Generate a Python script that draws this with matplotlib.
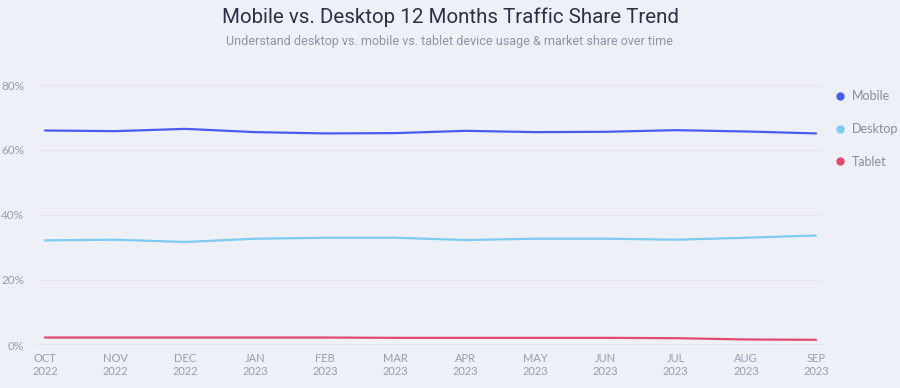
import matplotlib
matplotlib.use("Agg")
import matplotlib.pyplot as plt
import numpy as np
from matplotlib.lines import Line2D

months = ["OCT\n2022", "NOV\n2022", "DEC\n2022", "JAN\n2023", "FEB\n2023", "MAR\n2023",
          "APR\n2023", "MAY\n2023", "JUN\n2023", "JUL\n2023", "AUG\n2023", "SEP\n2023"]
mobile = [66.0, 65.8, 66.5, 65.5, 65.1, 65.2, 65.9, 65.5, 65.6, 66.1, 65.7, 65.1]
desktop = [32.2, 32.4, 31.7, 32.7, 33.0, 33.0, 32.3, 32.7, 32.7, 32.4, 33.0, 33.7]
tablet = [2.3, 2.3, 2.3, 2.3, 2.3, 2.2, 2.2, 2.2, 2.2, 2.1, 1.7, 1.6]
yticks = [0, 20, 40, 60, 80]
series_names = ["Mobile", "Desktop", "Tablet"]
colors = ["#4a5cf0", "#7ecbf0", "#e04a6e"]

bg = "#eef0f8"
fig = plt.figure(figsize=(9, 3.88), dpi=100, facecolor=bg)
ax = fig.add_axes([38/900, 1-345/388, 785/900, 260/388])
ax.set_facecolor(bg)

x = np.arange(len(months))
for vals, c in zip([mobile, desktop, tablet], colors):
    ax.plot(x, vals, color=c, lw=1.6, solid_capstyle="round", zorder=3)

ax.set_xlim(-0.1, len(months) - 1 + 0.1)
ax.set_ylim(0, 80)
ax.set_yticks(yticks)
ax.set_yticklabels([f"{v}%" for v in yticks])
ax.set_xticks(x)
ax.set_xticklabels(months)
for s in ax.spines.values():
    s.set_visible(False)
ax.grid(axis="y", color="#e6e6ec", lw=1)
ax.axhline(0, color="#dcdde6", lw=1.2, zorder=1)
ax.tick_params(axis="both", length=0, labelcolor="#9a9cab", labelsize=8)
ax.tick_params(axis="y", pad=10, labelsize=8.5)
ax.tick_params(axis="x", pad=6)
for lab in ax.get_yticklabels() + ax.get_xticklabels():
    lab.set_family("Lato")

handles = [Line2D([0], [0], marker="o", ls="none", color=c, markersize=5) for c in colors]
leg = fig.legend(handles, series_names, loc="upper left", bbox_to_anchor=(816/900, 1-79/388),
                 frameon=False, handletextpad=0.0, labelspacing=1.65,
                 prop={"family": "Lato", "size": 9})
for t in leg.get_texts():
    t.set_color("#8a8c9b")

fig.text(0.5, 1-17/388, "Mobile vs. Desktop 12 Months Traffic Share Trend", ha="center", va="center",
         fontsize=14.8, color="#2a3147", family="Roboto")
fig.text(0.5, 1-42/388, "Understand desktop vs. mobile vs. tablet device usage & market share over time",
         ha="center", va="center", fontsize=9, color="#8f92a3", family="Roboto")

fig.savefig("out.png", dpi=100, facecolor=bg)
